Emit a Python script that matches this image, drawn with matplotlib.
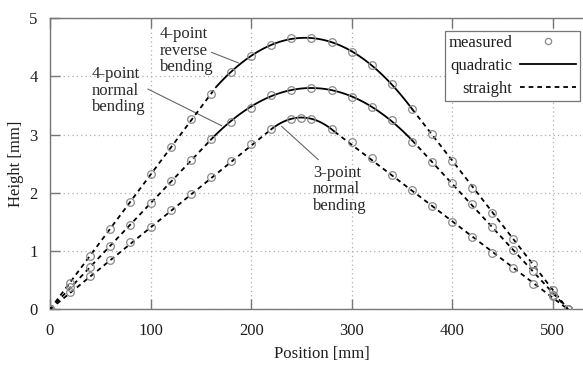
import matplotlib
matplotlib.use("Agg")
import matplotlib.pyplot as plt
import numpy as np

# measured heights along the beam, every 20 mm plus the far support
position = [0, 20, 40, 60, 80, 100, 120, 140, 160, 180, 200, 220, 240, 260,
            280, 300, 320, 340, 360, 380, 400, 420, 440, 460, 480, 500, 515]
reverse_4pt = [0, 0.45, 0.92, 1.38, 1.85, 2.32, 2.79, 3.26, 3.69, 4.07, 4.35,
               4.54, 4.65, 4.66, 4.58, 4.41, 4.19, 3.86, 3.44, 3.01, 2.54,
               2.08, 1.65, 1.21, 0.78, 0.33, 0]
normal_4pt = [0, 0.38, 0.73, 1.09, 1.45, 1.82, 2.20, 2.57, 2.93, 3.22, 3.46,
              3.67, 3.76, 3.80, 3.76, 3.65, 3.48, 3.25, 2.88, 2.53, 2.17,
              1.80, 1.42, 1.02, 0.66, 0.25, 0]
normal_3pt = [0, 0.30, 0.58, 0.85, 1.15, 1.41, 1.70, 1.98, 2.27, 2.54, 2.83,
              3.09, 3.27, 3.27, 3.09, 2.87, 2.60, 2.31, 2.05, 1.78, 1.49,
              1.24, 0.97, 0.71, 0.44, 0.22, 0]
# extra reading near the 3-point peak
extra_3pt_x = [250]
extra_3pt_y = [3.29]

# span of the quadratic fit for each case (mm)
fit_ranges = {
    "reverse_4pt": (165, 360),
    "normal_4pt": (160, 360),
    "normal_3pt": (220, 283),
}

plt.rcParams.update({
    "font.family": ["Liberation Serif", "DejaVu Serif"],
    "font.size": 12,
    "text.color": "#1e1e1e",
    "axes.edgecolor": "#777777",
    "axes.labelcolor": "#1e1e1e",
    "xtick.color": "#777777",
    "ytick.color": "#777777",
    "xtick.labelcolor": "#1e1e1e",
    "ytick.labelcolor": "#1e1e1e",
})

DASH = (0, (2.6, 2.2))

fig = plt.figure(figsize=(5.83, 3.65), dpi=100)
ax = fig.add_axes([50 / 583, 55.7 / 365, 533 / 583, 291.3 / 365])

span_end = float(position[-1])


def draw_case(xs, ys, lo, hi):
    xs = np.asarray(xs, dtype=float)
    ys = np.asarray(ys, dtype=float)
    mask = (xs >= lo - 1) & (xs <= hi + 1)
    coef = np.polyfit(xs[mask], ys[mask], 2)
    xq = np.linspace(lo, hi, 120)
    yq = np.polyval(coef, xq)
    ax.plot(xq, yq, color="black", lw=1.3, zorder=3)
    ax.plot([0, lo], [0, yq[0]], color="black", lw=1.3, ls=DASH, zorder=3)
    ax.plot([hi, span_end], [yq[-1], 0], color="black", lw=1.3, ls=DASH, zorder=3)


for name, ys in [("reverse_4pt", reverse_4pt), ("normal_4pt", normal_4pt), ("normal_3pt", normal_3pt)]:
    lo, hi = fit_ranges[name]
    xs, yy = list(position), list(ys)
    if name == "normal_3pt":
        xs = xs + extra_3pt_x
        yy = yy + extra_3pt_y
    draw_case(xs, yy, lo, hi)
    ax.plot(xs, yy, ls="none", marker="o", ms=5.5, mfc="none", mec="#8a8a8a", mew=0.9, zorder=4)

# legend proxies
h_meas, = ax.plot([], [], ls="none", marker="o", ms=4.5, mfc="none", mec="#8a8a8a", mew=0.9)
h_quad, = ax.plot([], [], color="black", lw=1.3)
h_str, = ax.plot([], [], color="black", lw=1.3, ls=DASH)
leg = ax.legend([h_meas, h_quad, h_str], ["measured", "quadratic", "straight"],
                loc="upper right", bbox_to_anchor=(0.9944, 0.956), borderaxespad=0,
                markerfirst=False, numpoints=1, handlelength=3.35, handletextpad=0.46,
                labelspacing=0.43, borderpad=0.24, fancybox=False, framealpha=1)
leg.get_frame().set_edgecolor("#777777")
leg.get_frame().set_linewidth(0.9)

# case labels with leader lines
labels = [
    ("4-point\nreverse\nbending", 109.3, 4.44, [160.7, 187.2], [4.41, 4.23]),
    ("4-point\nnormal\nbending", 41.4, 3.75, [97.4, 170.7], [3.78, 3.15]),
    ("3-point\nnormal\nbending", 261.4, 2.06, [230.3, 266.7], [3.14, 2.57]),
]
for text, tx, ty, lx, ly in labels:
    ax.text(tx, ty, text, ha="left", va="center", linespacing=1.05, color="#2a2a2a")
    ax.plot(lx, ly, color="#666666", lw=0.8, zorder=2)

ax.set_xlim(0, 530)
ax.set_ylim(0, 5)
ax.set_xticks([0, 100, 200, 300, 400, 500])
ax.set_yticks([0, 1, 2, 3, 4, 5])
ax.tick_params(axis="both", direction="in", length=7, width=1.0)
ax.tick_params(axis="x", top=True, pad=10)
ax.tick_params(axis="y", pad=9)
ax.grid(True, ls=(0, (1, 2.5)), color="#b0b0b0", lw=0.9)
ax.spines["right"].set_visible(False)
for s in ["left", "top", "bottom"]:
    ax.spines[s].set_linewidth(1.0)

ax.set_xlabel("Position [mm]", labelpad=6)
ax.xaxis.set_label_coords(0.51, -0.125)
ax.set_ylabel("Height [mm]", labelpad=4)

fig.savefig("out.png", dpi=100)
